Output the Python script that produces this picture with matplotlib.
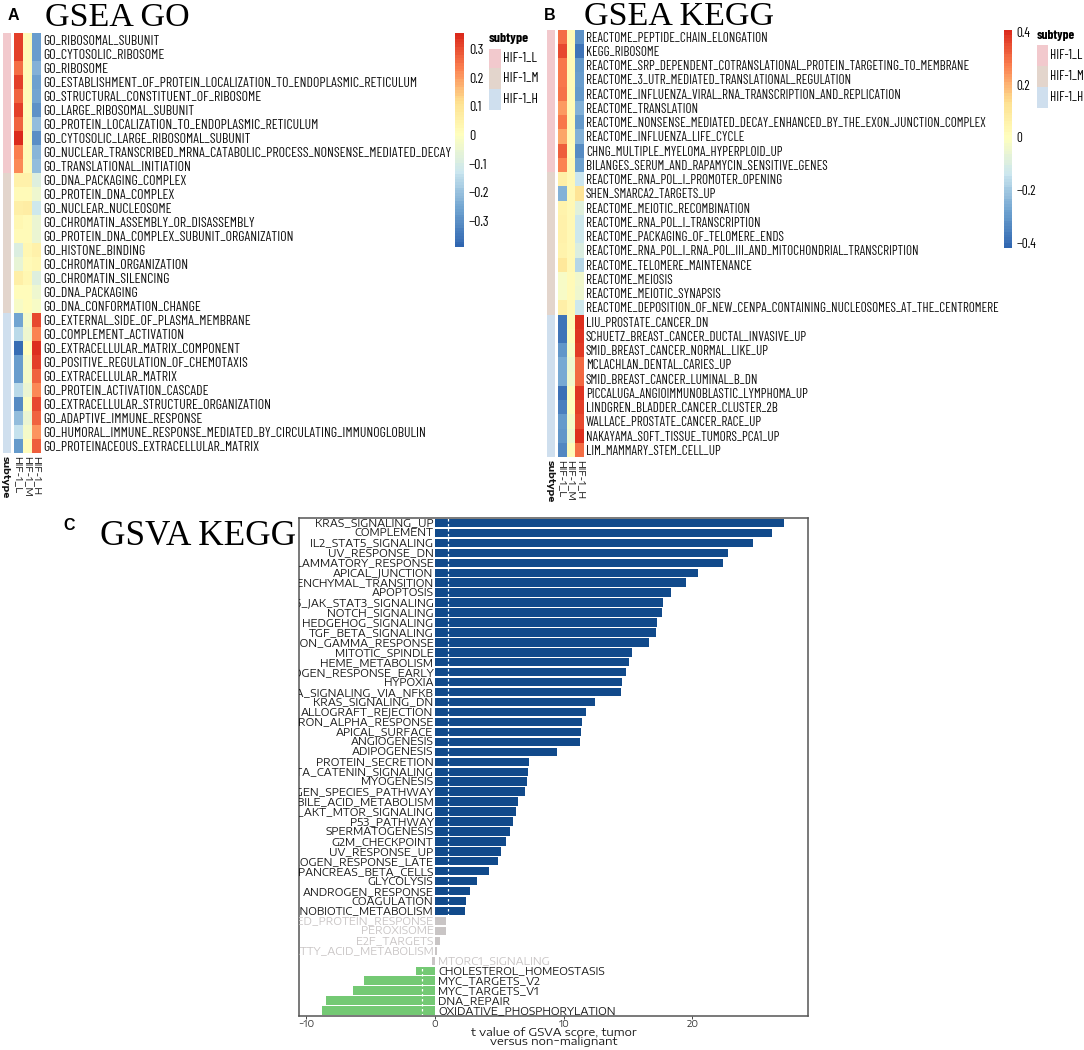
import numpy as np
import matplotlib
matplotlib.use('Agg')
import matplotlib.pyplot as plt
from matplotlib.colors import LinearSegmentedColormap, ListedColormap, TwoSlopeNorm
from matplotlib.cm import ScalarMappable
from matplotlib.patches import Rectangle

W, H = 1084, 1050
NARROW = ['Barlow Condensed', 'Archivo Narrow', 'Liberation Sans']
WIDE = ['Encode Sans Expanded', 'DejaVu Sans']

#--------------------------------------------------------------------------------------------------------------------------------
# data, panel A
go_terms = ['GO_RIBOSOMAL_SUBUNIT', 'GO_CYTOSOLIC_RIBOSOME', 'GO_RIBOSOME',
            'GO_ESTABLISHMENT_OF_PROTEIN_LOCALIZATION_TO_ENDOPLASMIC_RETICULUM',
            'GO_STRUCTURAL_CONSTITUENT_OF_RIBOSOME', 'GO_LARGE_RIBOSOMAL_SUBUNIT',
            'GO_PROTEIN_LOCALIZATION_TO_ENDOPLASMIC_RETICULUM', 'GO_CYTOSOLIC_LARGE_RIBOSOMAL_SUBUNIT',
            'GO_NUCLEAR_TRANSCRIBED_MRNA_CATABOLIC_PROCESS_NONSENSE_MEDIATED_DECAY',
            'GO_TRANSLATIONAL_INITIATION', 'GO_DNA_PACKAGING_COMPLEX', 'GO_PROTEIN_DNA_COMPLEX',
            'GO_NUCLEAR_NUCLEOSOME', 'GO_CHROMATIN_ASSEMBLY_OR_DISASSEMBLY',
            'GO_PROTEIN_DNA_COMPLEX_SUBUNIT_ORGANIZATION', 'GO_HISTONE_BINDING',
            'GO_CHROMATIN_ORGANIZATION', 'GO_CHROMATIN_SILENCING', 'GO_DNA_PACKAGING',
            'GO_DNA_CONFORMATION_CHANGE', 'GO_EXTERNAL_SIDE_OF_PLASMA_MEMBRANE',
            'GO_COMPLEMENT_ACTIVATION', 'GO_EXTRACELLULAR_MATRIX_COMPONENT',
            'GO_POSITIVE_REGULATION_OF_CHEMOTAXIS', 'GO_EXTRACELLULAR_MATRIX',
            'GO_PROTEIN_ACTIVATION_CASCADE', 'GO_EXTRACELLULAR_STRUCTURE_ORGANIZATION',
            'GO_ADAPTIVE_IMMUNE_RESPONSE',
            'GO_HUMORAL_IMMUNE_RESPONSE_MEDIATED_BY_CIRCULATING_IMMUNOGLOBULIN',
            'GO_PROTEINACEOUS_EXTRACELLULAR_MATRIX']
go_L = [.32, .32, .26, .32, .27, .32, .27, .35, .24, .22, .05, .02, .06, .03, .02,
        -.09, -.06, .06, .01, -.02, -.25, -.15, -.37, -.27, -.27, -.15, -.31, -.21, -.14, -.28]
go_M = [.02, .02, .02, .02, .02, .01, .02, .01, .02, .02, .05, .02, .07, .02, .02,
        .03, .02, .03, .01, .01, -.03, -.04, .00, -.03, -.03, -.05, -.01, -.05, -.03, .01]
go_H = [-.27, -.27, -.23, -.26, -.25, -.29, -.21, -.30, -.22, -.21, -.08, -.04, -.12, -.05, -.05,
        .05, .03, -.08, -.04, -.02, .31, .23, .34, .32, .27, .22, .31, .27, .21, .28]
go_groups = [0]*10 + [1]*10 + [2]*10

#--------------------------------------------------------------------------------------------------------------------------------
# data, panel B
kegg_terms = ['REACTOME_PEPTIDE_CHAIN_ELONGATION', 'KEGG_RIBOSOME',
              'REACTOME_SRP_DEPENDENT_COTRANSLATIONAL_PROTEIN_TARGETING_TO_MEMBRANE',
              'REACTOME_3_UTR_MEDIATED_TRANSLATIONAL_REGULATION',
              'REACTOME_INFLUENZA_VIRAL_RNA_TRANSCRIPTION_AND_REPLICATION', 'REACTOME_TRANSLATION',
              'REACTOME_NONSENSE_MEDIATED_DECAY_ENHANCED_BY_THE_EXON_JUNCTION_COMPLEX',
              'REACTOME_INFLUENZA_LIFE_CYCLE', 'CHNG_MULTIPLE_MYELOMA_HYPERPLOID_UP',
              'BILANGES_SERUM_AND_RAPAMYCIN_SENSITIVE_GENES', 'REACTOME_RNA_POL_I_PROMOTER_OPENING',
              'SHEN_SMARCA2_TARGETS_UP', 'REACTOME_MEIOTIC_RECOMBINATION',
              'REACTOME_RNA_POL_I_TRANSCRIPTION', 'REACTOME_PACKAGING_OF_TELOMERE_ENDS',
              'REACTOME_RNA_POL_I_RNA_POL_III_AND_MITOCHONDRIAL_TRANSCRIPTION',
              'REACTOME_TELOMERE_MAINTENANCE', 'REACTOME_MEIOSIS', 'REACTOME_MEIOTIC_SYNAPSIS',
              'REACTOME_DEPOSITION_OF_NEW_CENPA_CONTAINING_NUCLEOSOMES_AT_THE_CENTROMERE',
              'LIU_PROSTATE_CANCER_DN', 'SCHUETZ_BREAST_CANCER_DUCTAL_INVASIVE_UP',
              'SMID_BREAST_CANCER_NORMAL_LIKE_UP', 'MCLACHLAN_DENTAL_CARIES_UP',
              'SMID_BREAST_CANCER_LUMINAL_B_DN', 'PICCALUGA_ANGIOIMMUNOBLASTIC_LYMPHOMA_UP',
              'LINDGREN_BLADDER_CANCER_CLUSTER_2B', 'WALLACE_PROSTATE_CANCER_RACE_UP',
              'NAKAYAMA_SOFT_TISSUE_TUMORS_PCA1_UP', 'LIM_MAMMARY_STEM_CELL_UP']
kegg_L = [.30, .36, .28, .28, .29, .23, .28, .22, .32, .27, .07, -.25, .05, .06, .06,
          .05, .10, -.02, -.02, .07, -.38, -.38, -.31, -.27, -.27, -.39, -.36, -.30, -.31, -.34]
kegg_M = [.02, .01, .02, .02, .02, .02, .02, .02, .01, .03, .03, .03, .03, .03, .03,
          .03, .03, .02, .02, .03, .02, .01, -.02, -.05, -.04, .01, .00, -.03, -.05, .02]
kegg_H = [-.32, -.38, -.30, -.29, -.30, -.25, -.30, -.25, -.33, -.28, -.14, .12, -.08, -.13, -.13,
          -.10, -.17, -.04, -.05, -.13, .40, .39, .38, .31, .31, .39, .37, .36, .40, .30]
kegg_groups = [0]*10 + [1]*10 + [2]*10

subtypes = ['HIF-1_L', 'HIF-1_M', 'HIF-1_H']
subtype_colors = ['#F2C9CD', '#E3D5CC', '#CFDFEE']
heat_colors = ['#2F65B0', '#6FA3D0', '#CBE6EF', '#FFFFBF', '#FEE090', '#FB8050', '#DB2A1C']

#--------------------------------------------------------------------------------------------------------------------------------
# data, panel C
gsva_terms = ['KRAS_SIGNALING_UP', 'COMPLEMENT', 'IL2_STAT5_SIGNALING', 'UV_RESPONSE_DN',
              'INFLAMMATORY_RESPONSE', 'APICAL_JUNCTION', 'EPITHELIAL_MESENCHYMAL_TRANSITION', 'APOPTOSIS',
              'IL6_JAK_STAT3_SIGNALING', 'NOTCH_SIGNALING', 'HEDGEHOG_SIGNALING', 'TGF_BETA_SIGNALING',
              'INTERFERON_GAMMA_RESPONSE', 'MITOTIC_SPINDLE', 'HEME_METABOLISM', 'ESTROGEN_RESPONSE_EARLY',
              'HYPOXIA', 'TNFA_SIGNALING_VIA_NFKB', 'KRAS_SIGNALING_DN', 'ALLOGRAFT_REJECTION',
              'INTERFERON_ALPHA_RESPONSE', 'APICAL_SURFACE', 'ANGIOGENESIS', 'ADIPOGENESIS',
              'PROTEIN_SECRETION', 'WNT_BETA_CATENIN_SIGNALING', 'MYOGENESIS',
              'REACTIVE_OXYGEN_SPECIES_PATHWAY', 'BILE_ACID_METABOLISM', 'PI3K_AKT_MTOR_SIGNALING',
              'P53_PATHWAY', 'SPERMATOGENESIS', 'G2M_CHECKPOINT', 'UV_RESPONSE_UP', 'ESTROGEN_RESPONSE_LATE',
              'PANCREAS_BETA_CELLS', 'GLYCOLYSIS', 'ANDROGEN_RESPONSE', 'COAGULATION', 'XENOBIOTIC_METABOLISM',
              'UNFOLDED_PROTEIN_RESPONSE', 'PEROXISOME', 'E2F_TARGETS', 'FATTY_ACID_METABOLISM',
              'MTORC1_SIGNALING', 'CHOLESTEROL_HOMEOSTASIS', 'MYC_TARGETS_V2', 'MYC_TARGETS_V1',
              'DNA_REPAIR', 'OXIDATIVE_PHOSPHORYLATION']
gsva_t = [27.1, 26.2, 24.7, 22.8, 22.4, 20.4, 19.5, 18.3, 17.7, 17.6, 17.25, 17.2, 16.6, 15.3, 15.1, 14.8,
          14.5, 14.45, 12.4, 11.7, 11.4, 11.35, 11.27, 9.5, 7.3, 7.2, 7.12, 6.99, 6.46, 6.33, 6.02, 5.86,
          5.54, 5.12, 4.86, 4.23, 3.23, 2.71, 2.44, 2.31, .89, .89, .42, .13, -.26, -1.47, -5.49, -6.38,
          -8.51, -8.77]
gsva_cut = 1.0
x_ticks = [-10, 0, 10, 20]
x_tick_labels = ['\u221210', '0', '10', '20']

#--------------------------------------------------------------------------------------------------------------------------------
fig = plt.figure(figsize=(W/100, H/100), dpi=100)

# axes from pixel box, y measured from the top like in the picture
def px_axes(x0, y0, x1, y1):
    return fig.add_axes([x0/W, 1-y1/H, (x1-x0)/W, (y1-y0)/H])

def px_text(x, y, s, **kw):
    return fig.text(x/W, 1-y/H, s, **kw)

def heat_panel(terms, L, M, H_, groups, box, sub_x, heat_x, lab_pad, vlim, ticks, tick_labels,
               cbar, tick_x, leg, col_lab_x, col_lab_y, fs):
    y0, y1 = box
    cmap = LinearSegmentedColormap.from_list('rdylbu', heat_colors, N=100)
    norm = TwoSlopeNorm(vcenter=0, vmin=vlim[0], vmax=vlim[1])

    # annotation column
    ax = px_axes(sub_x[0], y0, sub_x[1], y1)
    ax.pcolormesh(np.array(groups).reshape(-1, 1), cmap=ListedColormap(subtype_colors), vmin=0, vmax=2)
    ax.invert_yaxis()
    ax.axis('off')

    # heat columns
    ax = px_axes(heat_x[0], y0, heat_x[1], y1)
    mat = np.column_stack([L, M, H_])
    ax.pcolormesh(mat, cmap=cmap, norm=norm)
    ax.invert_yaxis()
    ax.set_xticks([])
    ax.yaxis.tick_right()
    ax.set_yticks(np.arange(len(terms))+0.5)
    ax.set_yticklabels(terms, family=NARROW, fontsize=fs, color='#111111')
    ax.tick_params(axis='y', length=0, pad=lab_pad)
    for s in ax.spines.values():
        s.set_visible(False)

    # colour key
    cax = px_axes(cbar[0], y0, cbar[1], cbar[2])
    cb = fig.colorbar(ScalarMappable(norm=norm, cmap=cmap), cax=cax,
                      boundaries=np.linspace(vlim[0], vlim[1], 80))
    cb.outline.set_visible(False)
    cb.set_ticks(ticks)
    cb.set_ticklabels(tick_labels)
    cax.tick_params(length=0, pad=tick_x-cbar[1])
    for t in cax.get_yticklabels():
        t.set_family(NARROW)
        t.set_fontsize(fs)

    # subtype legend
    px_text(leg[0], leg[1], 'subtype', family=NARROW, fontsize=fs, fontweight='bold', va='center')
    for i, name in enumerate(subtypes):
        top, bot = leg[3][i], leg[3][i+1]
        fig.add_artist(Rectangle((leg[0]/W, 1-bot/H), (leg[2]-leg[0])/W, (bot-top)/H,
                                 transform=fig.transFigure, fc=subtype_colors[i], ec='none'))
        px_text(leg[2]+2, (top+bot)/2, name, family=NARROW, fontsize=fs, va='center')

    # rotated column names
    names = ['subtype'] + subtypes
    for i, name in enumerate(names):
        px_text(col_lab_x[i], col_lab_y, name, rotation=270, ha='center', va='top', fontsize=6.9,
                family=WIDE, fontweight='bold' if i == 0 else 'normal', color='#111111')

heat_panel(go_terms, go_L, go_M, go_H, go_groups, (33.4, 452.5), (3, 11.5), (14, 40.6), 2,
           (-.39, .354), [-.3, -.2, -.1, 0, .1, .2, .3],
           ['\u22120.3', '\u22120.2', '\u22120.1', '0', '0.1', '0.2', '0.3'],
           (454.5, 463.8, 247), 467.5,
           (489, 39, 501.4, [48.5, 67.8, 89.5, 109.5]), [5, 17.5, 27.3, 36.7], 456.5, 10)
heat_panel(kegg_terms, kegg_L, kegg_M, kegg_H, kegg_groups, (29.5, 457), (547, 555), (558, 583.7), 1.5,
           (-.422, .41), [-.4, -.2, 0, .2, .4],
           ['\u22120.4', '\u22120.2', '0', '0.2', '0.4'],
           (1003.6, 1012, 248.4), 1015,
           (1036.5, 35.7, 1048, [45, 66, 87, 108]), [550, 561.5, 570.7, 580], 460, 9.5)

#--------------------------------------------------------------------------------------------------------------------------------
# panel C, bars
ax = px_axes(299, 518, 808, 1015.5)
ypos = np.arange(len(gsva_t))
cols = []
for v in gsva_t:
    if v > gsva_cut:
        cols.append('#114A8B')
    elif v < -gsva_cut:
        cols.append('#74C974')
    else:
        cols.append('#C9C5C5')
ax.barh(ypos, gsva_t, height=0.84, color=cols, edgecolor='none')
ax.set_ylim(len(gsva_t)-0.5, -0.5)
ax.set_xlim(-10.57, 28.98)
for xc in [gsva_cut, -gsva_cut]:
    ax.axvline(xc, color='white', lw=0.9, ls=(0, (2, 2)))
for i, (name, v) in enumerate(zip(gsva_terms, gsva_t)):
    c = '#161616' if abs(v) > gsva_cut else '#C9C5C5'
    if v >= 0:
        ax.text(-0.12, i, name, ha='right', va='center', family=WIDE, fontsize=7.6, color=c, clip_on=True)
    else:
        ax.text(0.25, i, name, ha='left', va='center', family=WIDE, fontsize=7.6, color=c, clip_on=True)
ax.set_yticks([])
ax.set_xticks(x_ticks)
ax.set_xticklabels(x_tick_labels, family=WIDE, fontsize=6.8, color='#333333')
ax.tick_params(axis='x', length=2, width=0.7, color='#444444', pad=1)
for s in ax.spines.values():
    s.set_color('#555555')
    s.set_linewidth(1.1)
ax.set_xlabel('t value of GSVA score, tumor\nversus non\u2212malignant', family=WIDE, fontsize=8.3, color='#161616',
              labelpad=-1.5, linespacing=0.85)

#--------------------------------------------------------------------------------------------------------------------------------
# titles and panel letters
SERIF = ['Liberation Serif']
px_text(45, 26.5, 'GSEA GO', family=SERIF, fontsize=24.5, va='baseline')
px_text(584, 25, 'GSEA KEGG', family=SERIF, fontsize=24.5, va='baseline')
px_text(100, 545, 'GSVA KEGG', family=SERIF, fontsize=25.4, va='baseline')
px_text(7.5, 16, 'A', family=['Liberation Sans'], fontsize=11.5, fontweight='bold', va='center')
px_text(543.5, 15.5, 'B', family=['Liberation Sans'], fontsize=11.5, fontweight='bold', va='center')
px_text(63, 525.5, 'C', family=['Liberation Sans'], fontsize=11.5, fontweight='bold', va='center')

fig.savefig('out.png', dpi=100)
